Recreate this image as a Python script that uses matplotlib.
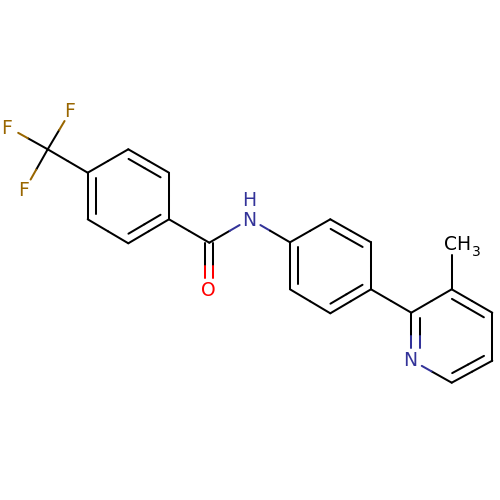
import matplotlib
matplotlib.use('Agg')
import matplotlib.pyplot as plt
import numpy as np

# atom positions (pixels, y down)
atom_x = [47.7, 70.7, 7.7, 24.7,
          87.7, 128.3, 169, 169, 128.3, 87.7,
          209.3, 209.3, 250,
          290, 330.3, 371, 371, 330.3, 290,
          411.3, 451.7, 492.3, 492.3, 451.7, 411.3, 451.7]
atom_y = [149.3, 110.7, 127, 190,
          172.7, 149.3, 172.7, 219.3, 243.3, 219.3,
          242.7, 290, 219,
          242.3, 219.3, 242.3, 289.3, 313.3, 289.3,
          312.7, 289.3, 312.7, 360.7, 382.7, 360, 243]
atom_label = ['', 'F', 'F', 'F',
              '', '', '', '', '', '',
              '', 'O', 'N',
              '', '', '', '', '', '',
              '', '', '', '', '', 'N', 'CH']

single_bonds = [(0, 1), (0, 2), (0, 3), (0, 4), (4, 5), (6, 7), (8, 9),
                (7, 10), (10, 12), (12, 13), (13, 14), (15, 16), (17, 18),
                (16, 19), (19, 20), (21, 22), (23, 24), (20, 25)]
ring_double_bonds = [(5, 6), (7, 8), (9, 4), (14, 15), (16, 17), (18, 13),
                     (20, 21), (22, 23), (19, 24)]
ring_centers = [(128.3, 196.3), (128.3, 196.3), (128.3, 196.3),
                (330.5, 266.3), (330.5, 266.3), (330.5, 266.3),
                (451.8, 336), (451.8, 336), (451.8, 336)]
carbonyl = (10, 11)

colors = {'': 'black', 'F': '#996600', 'O': '#ff0000', 'N': '#333399', 'CH': 'black'}
lw = 1.45
gap = 12.0
font = 13.5


def seg(ax, p, q, c):
    ax.plot([p[0], q[0]], [p[1], q[1]], color=c, lw=lw, solid_capstyle='round')


def bond(ax, i, j, off=(0, 0), trim=0.0):
    # two-coloured line from atom i to atom j, stopping short of any label
    p = np.array([atom_x[i], atom_y[i]])
    q = np.array([atom_x[j], atom_y[j]])
    u = (q - p) / np.linalg.norm(q - p)
    mid = (p + q) / 2 + off
    a = p + off + u * max(trim, gap if atom_label[i] else 0)
    b = q + off - u * max(trim, gap if atom_label[j] else 0)
    seg(ax, a, mid, colors[atom_label[i]])
    seg(ax, mid, b, colors[atom_label[j]])


fig = plt.figure(figsize=(5, 5), dpi=100)
ax = fig.add_axes([0, 0, 1, 1])
ax.set_xlim(0, 500)
ax.set_ylim(500, 0)
ax.axis('off')

for i, j in single_bonds:
    bond(ax, i, j)

# aromatic doubles: outer line plus a shorter one inside the ring
for (i, j), c in zip(ring_double_bonds, ring_centers):
    bond(ax, i, j)
    dx, dy = atom_x[j] - atom_x[i], atom_y[j] - atom_y[i]
    n = np.array([-dy, dx]) / np.hypot(dx, dy)
    if (c[0] - atom_x[i]) * n[0] + (c[1] - atom_y[i]) * n[1] < 0:
        n = -n
    bond(ax, i, j, off=n * 8.2, trim=5.0)

# C=O drawn as two lines either side of the bond
i, j = carbonyl
bond(ax, i, j, off=np.array([-4.0, 0.0]))
bond(ax, i, j, off=np.array([4.0, 0.0]))

for x, y, s in zip(atom_x, atom_y, atom_label):
    if s == 'CH':
        ax.text(x + 6, y + 1, s, color=colors[s], fontsize=font, ha='center', va='center')
        ax.text(x + 25, y + 9, '3', color=colors[s], fontsize=10, ha='center', va='center')
    elif s:
        ax.text(x - 1, y + 1, s, color=colors[s], fontsize=font, ha='center', va='center')
ax.text(249, 201, 'H', color=colors['N'], fontsize=font, ha='center', va='center')

fig.savefig('out.png', dpi=100)
